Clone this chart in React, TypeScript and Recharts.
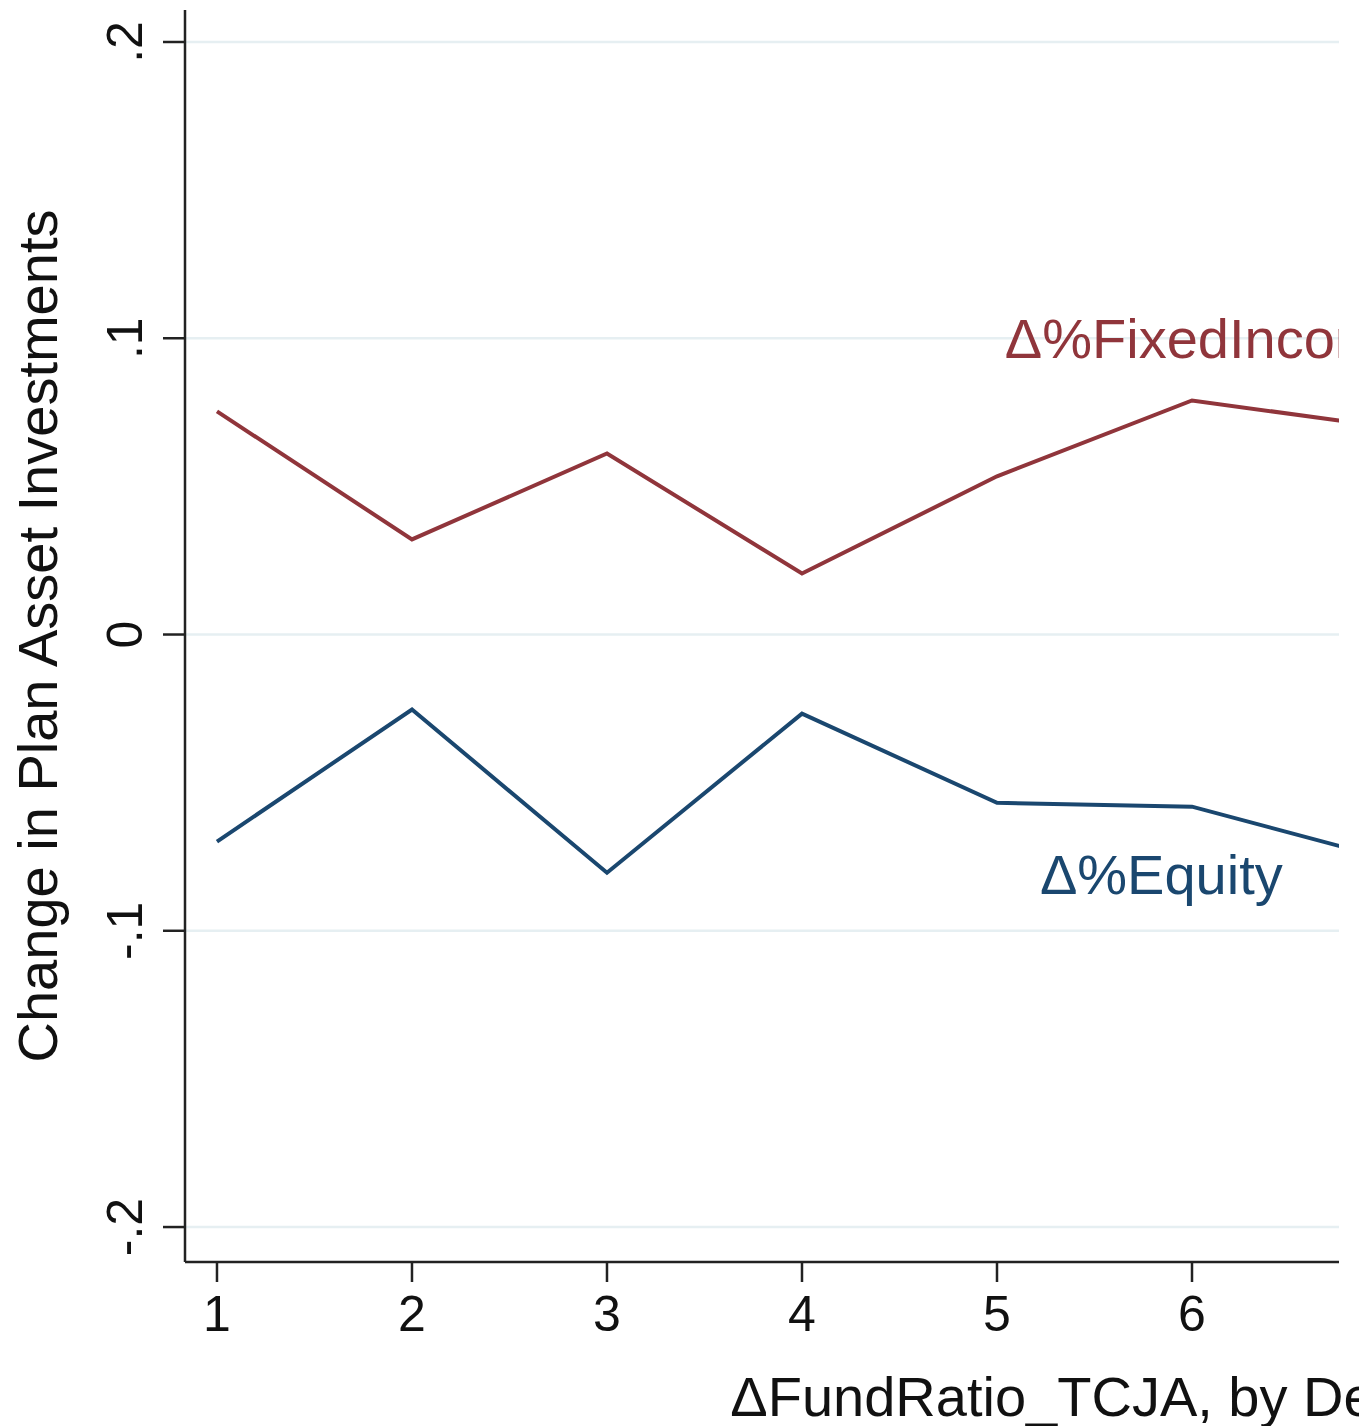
import { Line, LineChart, ReferenceDot, ReferenceLine, XAxis, YAxis } from "recharts"

const deciles = [1, 2, 3, 4, 5, 6, 7]
const fixedIncome = [0.0753, 0.0321, 0.0611, 0.0206, 0.0534, 0.079, 0.07]
const equity = [-0.0699, -0.0253, -0.0804, -0.0267, -0.0568, -0.0581, -0.0757]
const xTicks = [1, 2, 3, 4, 5, 6, 7, 8, 9, 10]
const yTicks = [-0.2, -0.1, 0, 0.1, 0.2]
const yTickLabels = ["-.2", "-.1", "0", ".1", ".2"]

const data = deciles.map((d, i) => ({ decile: d, fixed: fixedIncome[i], equity: equity[i] }))

const FONT = "'Liberation Sans', Arial, Helvetica, sans-serif"
const MAROON = "#90353b"
const NAVY = "#1a476f"
const GRID = "#e6eff2"

const YTick = (props: any) => {
  const { x, y, payload } = props
  const idx = yTicks.indexOf(payload.value)
  const tx = x - 21
  return (
    <text x={tx} y={y} transform={`rotate(-90 ${tx} ${y})`} textAnchor="middle" fontSize={50} fontFamily={FONT} fill="#111">
      {idx >= 0 ? yTickLabels[idx] : payload.value}
    </text>
  )
}

const XTick = (props: any) => {
  const { x, y, payload } = props
  return (
    <text x={x} y={y} dy={47} textAnchor="middle" fontSize={50} fontFamily={FONT} fill="#111">
      {payload.value}
    </text>
  )
}

const SeriesLabel = (text: string, color: string) => (p: any) => (
  <text x={p.cx} y={p.cy} fontSize={56} fontFamily={FONT} fill={color}>
    {text}
  </text>
)

export default function App() {
  return (
    <div style={{ position: "absolute", left: 0, top: 0, width: 1359, height: 1426, background: "#fff", overflow: "hidden" }}>
      <LineChart width={2024} height={1426} data={data} margin={{ top: 10, right: 20, bottom: 0, left: 0 }}>
        {yTicks.map((t) => (
          <ReferenceLine key={t} y={t} stroke={GRID} strokeWidth={2.5} />
        ))}
        <XAxis
          dataKey="decile"
          type="number"
          domain={[0.836, 10.164]}
          ticks={xTicks}
          height={164}
          tickSize={20}
          tickMargin={2}
          tick={<XTick />}
          stroke="#222"
          strokeWidth={2.5}
          label={(p: any) => {
            const vb = p.viewBox
            return (
              <text x={vb.x + vb.width / 2} y={vb.y + 154} textAnchor="middle" fontSize={56} fontFamily={FONT} fill="#111">
                ΔFundRatio_TCJA, by Decile
              </text>
            )
          }}
        />
        <YAxis
          type="number"
          domain={[-0.2118, 0.2108]}
          ticks={yTicks}
          width={185}
          tickSize={22}
          tickMargin={0}
          tick={<YTick />}
          stroke="#222"
          strokeWidth={2.5}
          allowDataOverflow
          label={(p: any) => {
            const vb = p.viewBox
            const cx = 57
            const cy = vb.y + vb.height / 2
            return (
              <text x={cx} y={cy} transform={`rotate(-90 ${cx} ${cy})`} textAnchor="middle" fontSize={56} fontFamily={FONT} fill="#111">
                Change in Plan Asset Investments
              </text>
            )
          }}
        />
        <Line type="linear" dataKey="fixed" stroke={MAROON} strokeWidth={4} dot={false} isAnimationActive={false} />
        <Line type="linear" dataKey="equity" stroke={NAVY} strokeWidth={4} dot={false} isAnimationActive={false} />
        <ReferenceDot x={5.04} y={0.0932} r={1} shape={SeriesLabel("Δ%FixedIncome", MAROON)} />
        <ReferenceDot x={5.22} y={-0.0875} r={1} shape={SeriesLabel("Δ%Equity", NAVY)} />
      </LineChart>
      {/* the source figure is cropped just right of x≈1338 above the axis title */}
      <div style={{ position: "absolute", left: 1339, top: 0, width: 20, height: 1350, background: "#fff" }} />
    </div>
  )
}
